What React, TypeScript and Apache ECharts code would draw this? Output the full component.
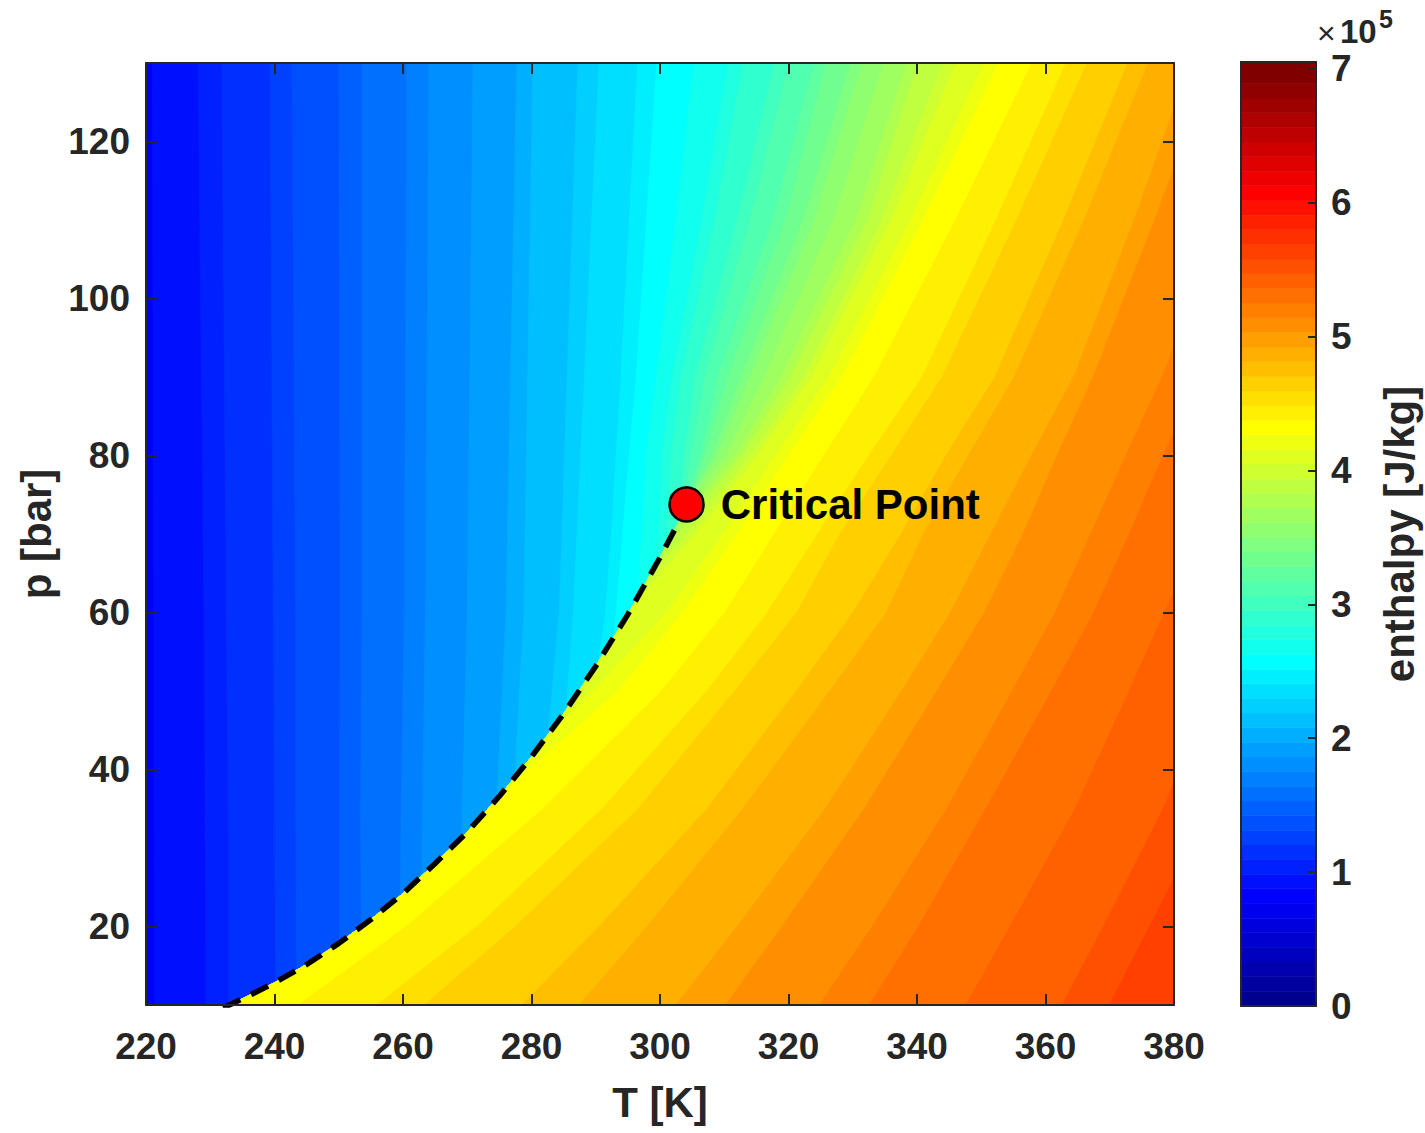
import React, { useEffect, useRef } from "react";
import * as echarts from "echarts";

// ---------- axes ----------
const T_AXIS_TICKS = [220, 240, 260, 280, 300, 320, 340, 360, 380];
const P_AXIS_TICKS = [20, 40, 60, 80, 100, 120];
const H_BAR_TICKS = [0, 100000, 200000, 300000, 400000, 500000, 600000, 700000];
const T_RANGE: [number, number] = [220, 380];
const P_RANGE: [number, number] = [10, 130];
const H_RANGE: [number, number] = [0, 700000]; // colour-map limits
const H_BAR_MAX = 705000; // top of the colour bar
const N_COLORS = 64;

// ---------- saturation curve (T [K], p [bar]) ----------
const SATURATION_CURVE: [number, number][] = [
  [232.0, 9.63], [232.8, 9.93], [235, 10.78], [240, 12.83], [245, 15.16], [250, 17.85],
  [255, 20.89], [260, 24.19], [265, 28.03], [270, 32.03], [275, 36.59], [280, 41.61],
  [285, 47.12], [290, 53.16], [295, 59.76], [298, 64.1], [300, 67.01], [302, 70.1],
  [303, 71.7], [304.13, 73.77],
];
const CRITICAL_POINT: [number, number] = [304.13, 73.77];

// enthalpy left of every contour line
const BACKGROUND_ENTHALPY = 77000;

// ---------- iso-enthalpy contour lines: [h J/kg, [[T, p], ...]] ----------
const LIQUID_ISENTHALPS: [number, [number, number][]][] = [
  [91000, [[221.3, 10], [221.2, 60], [221.0, 130]]],
  [105000, [[229.3, 10], [229.2, 35], [229.0, 60], [228.1, 130]]],
  [112000, [[232.9, 10], [232.8, 35], [232.5, 60], [231.8, 130]]],
  [126000, [[240.2, 12.92], [240.0, 35], [239.8, 60], [239.3, 130]]],
  [133000, [[243.4, 14.38], [243.3, 35], [243.3, 60], [242.7, 130]]],
  [147000, [[250.1, 17.9], [250.1, 35], [250.2, 60], [250.0, 130]]],
  [154000, [[253.5, 19.95], [253.4, 35], [253.6, 60], [253.6, 130]]],
  [168000, [[259.6, 23.92], [259.7, 35], [260.2, 60], [260.6, 130]]],
  [175000, [[262.9, 26.37], [263.0, 35], [263.5, 60], [264.0, 130]]],
  [189000, [[269.1, 31.3], [269.2, 35], [270.0, 60], [270.9, 130]]],
  [203000, [[274.6, 36.2], [276.0, 60], [277.7, 130]]],
  [210000, [[277.4, 38.95], [278.8, 60], [280.2, 130]]],
  [224000, [[282.6, 44.4], [284.3, 60], [287.2, 130]]],
  [231000, [[285.4, 47.6], [286.5, 60], [290.5, 130]]],
  [245000, [[290.4, 53.6], [291.5, 60], [292.4, 70], [293.9, 90], [296.5, 130]]],
  [252000, [[292.8, 56.7], [293.2, 60], [294.2, 70], [295.2, 80], [296.3, 90], [297.9, 110], [299.5, 130]]],
];

const NEAR_CRITICAL_ISENTHALPS: [number, [number, number][]][] = [
  [266000, [[296.5, 61.8], [297.2, 70], [297.8, 80], [299.4, 90], [302.5, 110], [305.2, 130]]],
  [280000, [[299.5, 66.25], [299.9, 70], [300.3, 80], [301.9, 90], [306.5, 110], [310.6, 130]]],
  [287000, [[300.8, 68.2], [301.1, 70], [301.7, 80], [303.3, 90], [308.5, 110], [312.9, 130]]],
  [301000, [[302.7, 71.2], [303.8, 80], [305.5, 90], [312.0, 110], [317.8, 130]]],
  [308000, [[303.3, 72.2], [304.8, 80], [307.0, 90], [314.0, 110], [320.0, 130]]],
  [322000, [[303.9, 73.35], [306.3, 80], [309.0, 90], [317.5, 110], [324.0, 130]]],
  [329000, [[304.13, 73.77], [307.0, 80], [310.6, 90], [319.5, 110], [325.9, 130]]],
  [343000, [[304.13, 73.77], [308.2, 80], [312.6, 90], [322.3, 110], [329.6, 130]]],
  [350000, [[304.0, 73.5], [308.9, 80], [314.0, 90], [324.0, 110], [331.4, 130]]],
  [364000, [[303.5, 72.5], [310.3, 80], [316.2, 90], [327.0, 110], [334.8, 130]]],
  [378000, [[302.6, 71.0], [311.8, 80], [318.8, 90], [330.5, 110], [338.4, 130]]],
  [385000, [[301.4, 69.2], [302.6, 70], [312.7, 80], [320.3, 90], [332.3, 110], [340.1, 130]]],
  [399000, [[298.6, 64.9], [304.2, 70], [314.0, 80], [322.3, 90], [334.5, 110], [344.0, 130]]],
  [406000, [[296.2, 61.3], [305.5, 70], [315.2, 80], [323.5, 90], [336.0, 110], [346.0, 130]]],
  [420000, [[282.5, 44.3], [289.6, 50], [301.0, 60], [309.8, 70], [318.0, 80], [326.3, 90], [339.0, 110], [350.4, 130]]],
  [427000, [[275.5, 37.1], [293.5, 50], [303.5, 60], [312.0, 70], [320.0, 80], [328.3, 90], [341.0, 110], [352.7, 130]]],
];

const VAPOR_ISENTHALPS: [number, [number, number][]][] = [
  [441000, [[243.7, 10], [260.5, 20], [281.8, 35], [300.2, 50], [310.1, 60], [317.8, 70], [325.5, 80], [333.3, 90], [346.0, 110], [357.9, 130]]],
  [455000, [[255.9, 10], [271.5, 20], [291.0, 35], [307.3, 50], [316.7, 60], [324.5, 70], [332.5, 80], [340.8, 90], [352.3, 110], [363.2, 130]]],
  [462000, [[263.3, 10], [277.5, 20], [296.6, 35], [311.6, 50], [321.3, 60], [328.0, 70], [336.0, 80], [343.9, 90], [355.5, 110], [366.5, 130]]],
  [476000, [[278.5, 10], [290.5, 20], [307.3, 35], [321.2, 50], [330.0, 60], [337.5, 70], [344.5, 80], [352.1, 90], [362.8, 110], [372.8, 130]]],
  [483000, [[287.4, 10], [298.0, 20], [312.9, 35], [326.4, 50], [335.2, 60], [341.0, 70], [348.0, 80], [355.1, 90], [366.0, 110], [376.0, 130]]],
  [497000, [[302.5, 10], [312.0, 20], [325.7, 35], [337.6, 50], [345.2, 60], [351.5, 70], [357.8, 80], [364.4, 90], [373.8, 110], [382.5, 130]]],
  [504000, [[310.2, 10], [319.0, 20], [331.8, 35], [343.1, 50], [350.5, 60], [356.5, 70], [361.8, 80], [367.4, 90], [377.0, 110], [386.0, 130]]],
  [518000, [[324.8, 10], [333.0, 20], [344.6, 35], [354.8, 50], [361.5, 60], [367.0, 70], [372.5, 80], [378.1, 90], [388.0, 110], [396.0, 130]]],
  [525000, [[332.6, 10], [340.2, 20], [350.7, 35], [360.9, 50], [367.5, 60], [373.0, 70], [378.3, 80], [384.0, 90], [393.0, 110], [401.0, 130]]],
  [539000, [[347.6, 10], [354.5, 20], [364.6, 35], [373.0, 50], [378.5, 60], [384.0, 70], [389.0, 80], [394.0, 90]]],
  [553000, [[362.6, 10], [369.0, 20], [378.3, 35], [386.0, 50]]],
  [560000, [[369.9, 10], [376.2, 20], [385.5, 35]]],
];

// ---------- style ----------
const FONT = "'Liberation Sans', Arial, Helvetica, sans-serif";
const INK = "#262626";

function jetColormap(m: number): string[] {
  const n = Math.ceil(m / 4);
  const u: number[] = [];
  for (let k = 1; k <= n; k++) u.push(k / n);
  for (let k = 1; k < n; k++) u.push(1);
  for (let k = n; k >= 1; k--) u.push(k / n);
  const g0 = Math.ceil(n / 2) - (m % 4 === 1 ? 1 : 0);
  const rgb = Array.from({ length: m }, () => [0, 0, 0]);
  for (let j = 0; j < u.length; j++) {
    const g = g0 + j + 1;
    const r = g + n;
    const b = g - n;
    if (r >= 1 && r <= m) rgb[r - 1][0] = u[j];
    if (g >= 1 && g <= m) rgb[g - 1][1] = u[j];
    if (b >= 1 && b <= m) rgb[b - 1][2] = u[j];
  }
  return rgb.map(
    ([r, g, b]) => `rgb(${Math.round(r * 255)},${Math.round(g * 255)},${Math.round(b * 255)})`
  );
}

const JET = jetColormap(N_COLORS);
const STEP = (H_RANGE[1] - H_RANGE[0]) / N_COLORS;

function colorOf(h: number): string {
  const idx = Math.min(N_COLORS - 1, Math.max(0, Math.floor((h - H_RANGE[0]) / STEP + 1e-9)));
  return JET[idx];
}

type Band = { h: number; pts: [number, number][] | null };
const BANDS: Band[] = [
  { h: BACKGROUND_ENTHALPY, pts: null },
  ...[...LIQUID_ISENTHALPS, ...NEAR_CRITICAL_ISENTHALPS, ...VAPOR_ISENTHALPS].map(
    ([h, pts]) => ({ h, pts })
  ),
];

function bandPolygon(b: Band): [number, number][] {
  if (!b.pts) return [[200, 0], [200, 140], [420, 140], [420, 0]];
  const first = b.pts[0];
  const lower = first[1] > 10.2 ? SATURATION_CURVE.filter((s) => s[1] < first[1]) : [];
  const body = [...lower, ...b.pts];
  return [...body, [420, 140], [420, 0], [body[0][0], 0]];
}

const axisLineStyle = { show: true, onZero: false, lineStyle: { color: INK, width: 2 } };
const tickStyle = { show: true, inside: true, length: 11, lineStyle: { color: INK, width: 2 } };
const labelFont = { fontSize: 37, color: INK, fontFamily: FONT, fontWeight: "bold" as const };
const titleFont = { fontSize: 42, color: INK, fontFamily: FONT, fontWeight: "bold" as const };

export default function App() {
  const ref = useRef<HTMLDivElement>(null);

  useEffect(() => {
    if (!ref.current) return;
    const chart = echarts.init(ref.current, null, { renderer: "svg" });

    const option: any = {
      animation: false,
      backgroundColor: "#ffffff",
      textStyle: { fontFamily: FONT },
      grid: [
        { left: 146, top: 63, width: 1028, height: 942 },
        { left: 1241, top: 62, width: 75, height: 944 },
      ],
      xAxis: [
        {
          type: "value", gridIndex: 0, position: "bottom", z: 10,
          min: T_RANGE[0], max: T_RANGE[1], interval: 20,
          axisLine: axisLineStyle, axisTick: tickStyle, splitLine: { show: false },
          axisLabel: { ...labelFont, margin: 23 },
          name: "T [K]", nameLocation: "middle", nameGap: 76,
          nameTextStyle: titleFont,
        },
        {
          type: "value", gridIndex: 0, position: "top", z: 10,
          min: T_RANGE[0], max: T_RANGE[1], interval: 20,
          axisLine: axisLineStyle, axisTick: tickStyle, splitLine: { show: false },
          axisLabel: { show: false },
        },
        {
          type: "value", gridIndex: 1, position: "bottom", z: 10, min: 0, max: 1,
          axisLine: axisLineStyle, axisTick: { show: false }, axisLabel: { show: false },
          splitLine: { show: false },
        },
        {
          type: "value", gridIndex: 1, position: "top", z: 10, min: 0, max: 1,
          axisLine: axisLineStyle, axisTick: { show: false }, axisLabel: { show: false },
          splitLine: { show: false },
        },
      ],
      yAxis: [
        {
          type: "value", gridIndex: 0, position: "left", z: 10,
          min: P_RANGE[0], max: P_RANGE[1],
          axisLine: axisLineStyle,
          axisTick: { ...tickStyle, customValues: P_AXIS_TICKS },
          axisLabel: { ...labelFont, customValues: P_AXIS_TICKS, margin: 16 },
          splitLine: { show: false },
          name: "p [bar]", nameLocation: "middle", nameGap: 86, nameRotate: 90,
          nameTextStyle: titleFont,
        },
        {
          type: "value", gridIndex: 0, position: "right", z: 10,
          min: P_RANGE[0], max: P_RANGE[1],
          axisLine: axisLineStyle,
          axisTick: { ...tickStyle, customValues: P_AXIS_TICKS },
          axisLabel: { show: false }, splitLine: { show: false },
        },
        {
          type: "value", gridIndex: 1, position: "left", z: 10,
          min: 0, max: H_BAR_MAX,
          axisLine: axisLineStyle, axisTick: { show: false }, axisLabel: { show: false },
          splitLine: { show: false },
        },
        {
          type: "value", gridIndex: 1, position: "right", z: 10,
          min: 0, max: H_BAR_MAX, interval: 100000,
          axisLine: axisLineStyle,
          axisTick: { ...tickStyle, length: 8, customValues: H_BAR_TICKS },
          axisLabel: {
            ...labelFont,
            customValues: H_BAR_TICKS,
            margin: 15,
            formatter: (v: number) => String(Math.round(v / 100000)),
          },
          splitLine: { show: false },
          name: "enthalpy [J/kg]", nameLocation: "middle", nameGap: 62, nameRotate: 90,
          nameTextStyle: titleFont,
        },
      ],
      graphic: [
        { type: "text", left: 1317, top: 17, z: 20, style: { text: "×", fontSize: 32, fill: INK, fontFamily: FONT } },
        { type: "text", left: 1340, top: 15, z: 20, style: { text: "10", fontSize: 33, fontWeight: "bold", fill: INK, fontFamily: FONT } },
        { type: "text", left: 1379, top: 6, z: 20, style: { text: "5", fontSize: 25, fontWeight: "bold", fill: INK, fontFamily: FONT } },
      ],
      series: [
        {
          type: "custom",
          xAxisIndex: 0,
          yAxisIndex: 0,
          clip: true,
          silent: true,
          z: 1,
          encode: { x: 0, y: 1 },
          data: BANDS.map((_, i) => [300, 70, i]),
          renderItem: (params: any, api: any) => {
            const band = BANDS[params.dataIndex];
            const points = bandPolygon(band).map((p) => api.coord(p));
            const c = colorOf(band.h);
            return {
              type: "polygon",
              shape: { points },
              style: { fill: c, stroke: c, lineWidth: 0.6 },
            };
          },
        },
        {
          type: "custom",
          xAxisIndex: 2,
          yAxisIndex: 2,
          clip: true,
          silent: true,
          z: 1,
          encode: { x: 0, y: 1 },
          data: JET.map((_, i) => [0.5, (i + 0.5) * STEP, i]),
          renderItem: (params: any, api: any) => {
            const i = params.dataIndex;
            const topValue = i === N_COLORS - 1 ? H_BAR_MAX : H_RANGE[0] + (i + 1) * STEP;
            const tl = api.coord([0, topValue]);
            const br = api.coord([1, H_RANGE[0] + i * STEP]);
            return {
              type: "rect",
              shape: { x: tl[0], y: tl[1], width: br[0] - tl[0], height: br[1] - tl[1] },
              style: { fill: JET[i], stroke: JET[i], lineWidth: 0.6 },
            };
          },
        },
        {
          type: "line",
          xAxisIndex: 0,
          yAxisIndex: 0,
          data: SATURATION_CURVE,
          showSymbol: false,
          symbol: "none",
          smooth: false,
          clip: true,
          z: 5,
          lineStyle: { color: "#000000", width: 5.5, type: [19, 12] },
          silent: true,
        },
        {
          type: "scatter",
          xAxisIndex: 0,
          yAxisIndex: 0,
          data: [CRITICAL_POINT],
          symbol: "circle",
          symbolSize: 34,
          z: 6,
          itemStyle: { color: "#ff0000", borderColor: "#000000", borderWidth: 2.5, opacity: 1 },
          label: {
            show: true,
            position: "right",
            distance: 16,
            formatter: "Critical Point",
            fontSize: 42,
            fontWeight: "bold",
            color: "#000000",
            fontFamily: FONT,
          },
          silent: true,
        },
      ],
    };

    chart.setOption(option);
    return () => chart.dispose();
  }, []);

  return (
    <div
      ref={ref}
      style={{ position: "absolute", left: 0, top: 0, width: 1425, height: 1133, background: "#fff" }}
    />
  );
}
